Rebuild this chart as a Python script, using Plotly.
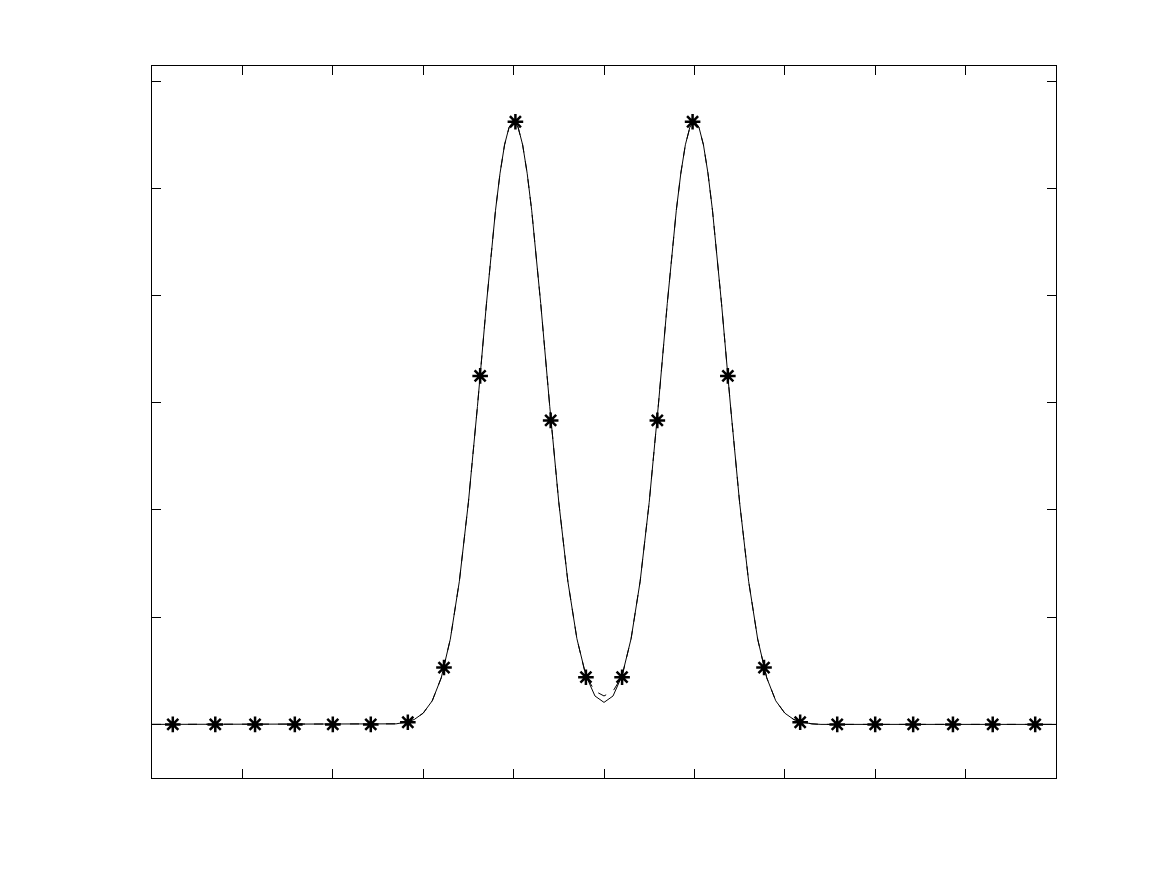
"""
plot.py — two-peak profile: exact curve, interpolant and sample points.

Solid line is the reference profile, the dashed line the reconstruction,
and the asterisks the discrete samples. Axes carry ticks but no labels.
"""

import plotly.graph_objects as go

# ── Data ──────────────────────────────────────────────────────────────────────
x_curve = [
    -5.0, -2.5, -2.4, -2.3, -2.2, -2.1, -2.0, -1.9, -1.8, -1.7, -1.6,
    -1.5, -1.4, -1.3, -1.2, -1.15, -1.1, -1.05, -1.0, -0.95, -0.9, -0.85,
    -0.8, -0.7, -0.6, -0.5, -0.4, -0.3, -0.2, -0.1, 0.0, 0.1, 0.2, 0.3,
    0.4, 0.5, 0.6, 0.7, 0.8, 0.85, 0.9, 0.95, 1.0, 1.05, 1.1, 1.15,
    1.2, 1.3, 1.4, 1.5, 1.6, 1.7, 1.8, 1.9, 2.0, 2.1, 2.2, 2.3, 2.4, 2.5, 5.0,
]
y_exact = [
    0.0, 0.0, 0.0, 0.001, 0.004, 0.009, 0.021, 0.044, 0.087, 0.159, 0.267,
    0.414, 0.593, 0.785, 0.959, 1.028, 1.081, 1.114, 1.125, 1.114, 1.081, 1.028,
    0.959, 0.785, 0.593, 0.414, 0.267, 0.160, 0.091, 0.053, 0.041, 0.053, 0.091, 0.160,
    0.267, 0.414, 0.593, 0.785, 0.959, 1.028, 1.081, 1.114, 1.125, 1.114, 1.081, 1.028,
    0.959, 0.785, 0.593, 0.414, 0.267, 0.159, 0.087, 0.044, 0.021, 0.009, 0.004, 0.001, 0.0, 0.0, 0.0,
]
y_approx = [
    0.0, 0.0, 0.0, 0.001, 0.004, 0.009, 0.021, 0.044, 0.087, 0.159, 0.267,
    0.414, 0.593, 0.785, 0.959, 1.028, 1.081, 1.113, 1.124, 1.113, 1.081, 1.028,
    0.959, 0.785, 0.593, 0.414, 0.267, 0.160, 0.090, 0.062, 0.053, 0.062, 0.090, 0.160,
    0.267, 0.414, 0.593, 0.785, 0.959, 1.028, 1.081, 1.113, 1.124, 1.113, 1.081, 1.028,
    0.959, 0.785, 0.593, 0.414, 0.267, 0.159, 0.087, 0.044, 0.021, 0.009, 0.004, 0.001, 0.0, 0.0, 0.0,
]
x_samples = [
    -4.77, -4.30, -3.86, -3.42, -3.00, -2.58, -2.17, -1.77, -1.37, -0.98, -0.59, -0.20,
    0.20, 0.59, 0.98, 1.37, 1.77, 2.17, 2.58, 3.00, 3.42, 3.86, 4.30, 4.77,
]
y_samples = [
    0.0, 0.0, 0.0, 0.0, 0.0, 0.0, 0.004, 0.106, 0.650, 1.124, 0.567, 0.088,
    0.088, 0.567, 1.124, 0.650, 0.106, 0.004, 0.0, 0.0, 0.0, 0.0, 0.0, 0.0,
]
x_ticks = [-5, -4, -3, -2, -1, 0, 1, 2, 3, 4, 5]
y_ticks = [0, 0.2, 0.4, 0.6, 0.8, 1.0, 1.2]

# ── Style ─────────────────────────────────────────────────────────────────────
_INK = "#000000"
_AXIS = dict(
    showline=True, linecolor=_INK, linewidth=1, mirror="ticks",
    ticks="inside", ticklen=9, tickcolor=_INK, tickwidth=1,
    showticklabels=False, showgrid=False, zeroline=False,
)

fig = go.Figure()
fig.add_trace(go.Scatter(
    x=x_curve, y=y_approx, mode="lines", name="approx",
    line=dict(color=_INK, width=1, dash="dash"),
))
fig.add_trace(go.Scatter(
    x=x_curve, y=y_exact, mode="lines", name="exact",
    line=dict(color=_INK, width=1),
))
fig.add_trace(go.Scatter(
    x=x_samples, y=y_samples, mode="markers", name="samples",
    marker=dict(symbol="asterisk-open", size=13, color=_INK,
                line=dict(color=_INK, width=2.5)),
))

# the page body adds an 8px offset, so margins are trimmed to land the frame
fig.update_layout(
    width=1167, height=875,
    paper_bgcolor="white", plot_bgcolor="white",
    showlegend=False,
    margin=dict(l=144, r=119, t=58, b=105),
    xaxis=dict(range=[-5, 5], tickvals=x_ticks, **_AXIS),
    yaxis=dict(range=[-0.1, 1.228], tickvals=y_ticks, **_AXIS),
)

fig.write_html("out.html")
